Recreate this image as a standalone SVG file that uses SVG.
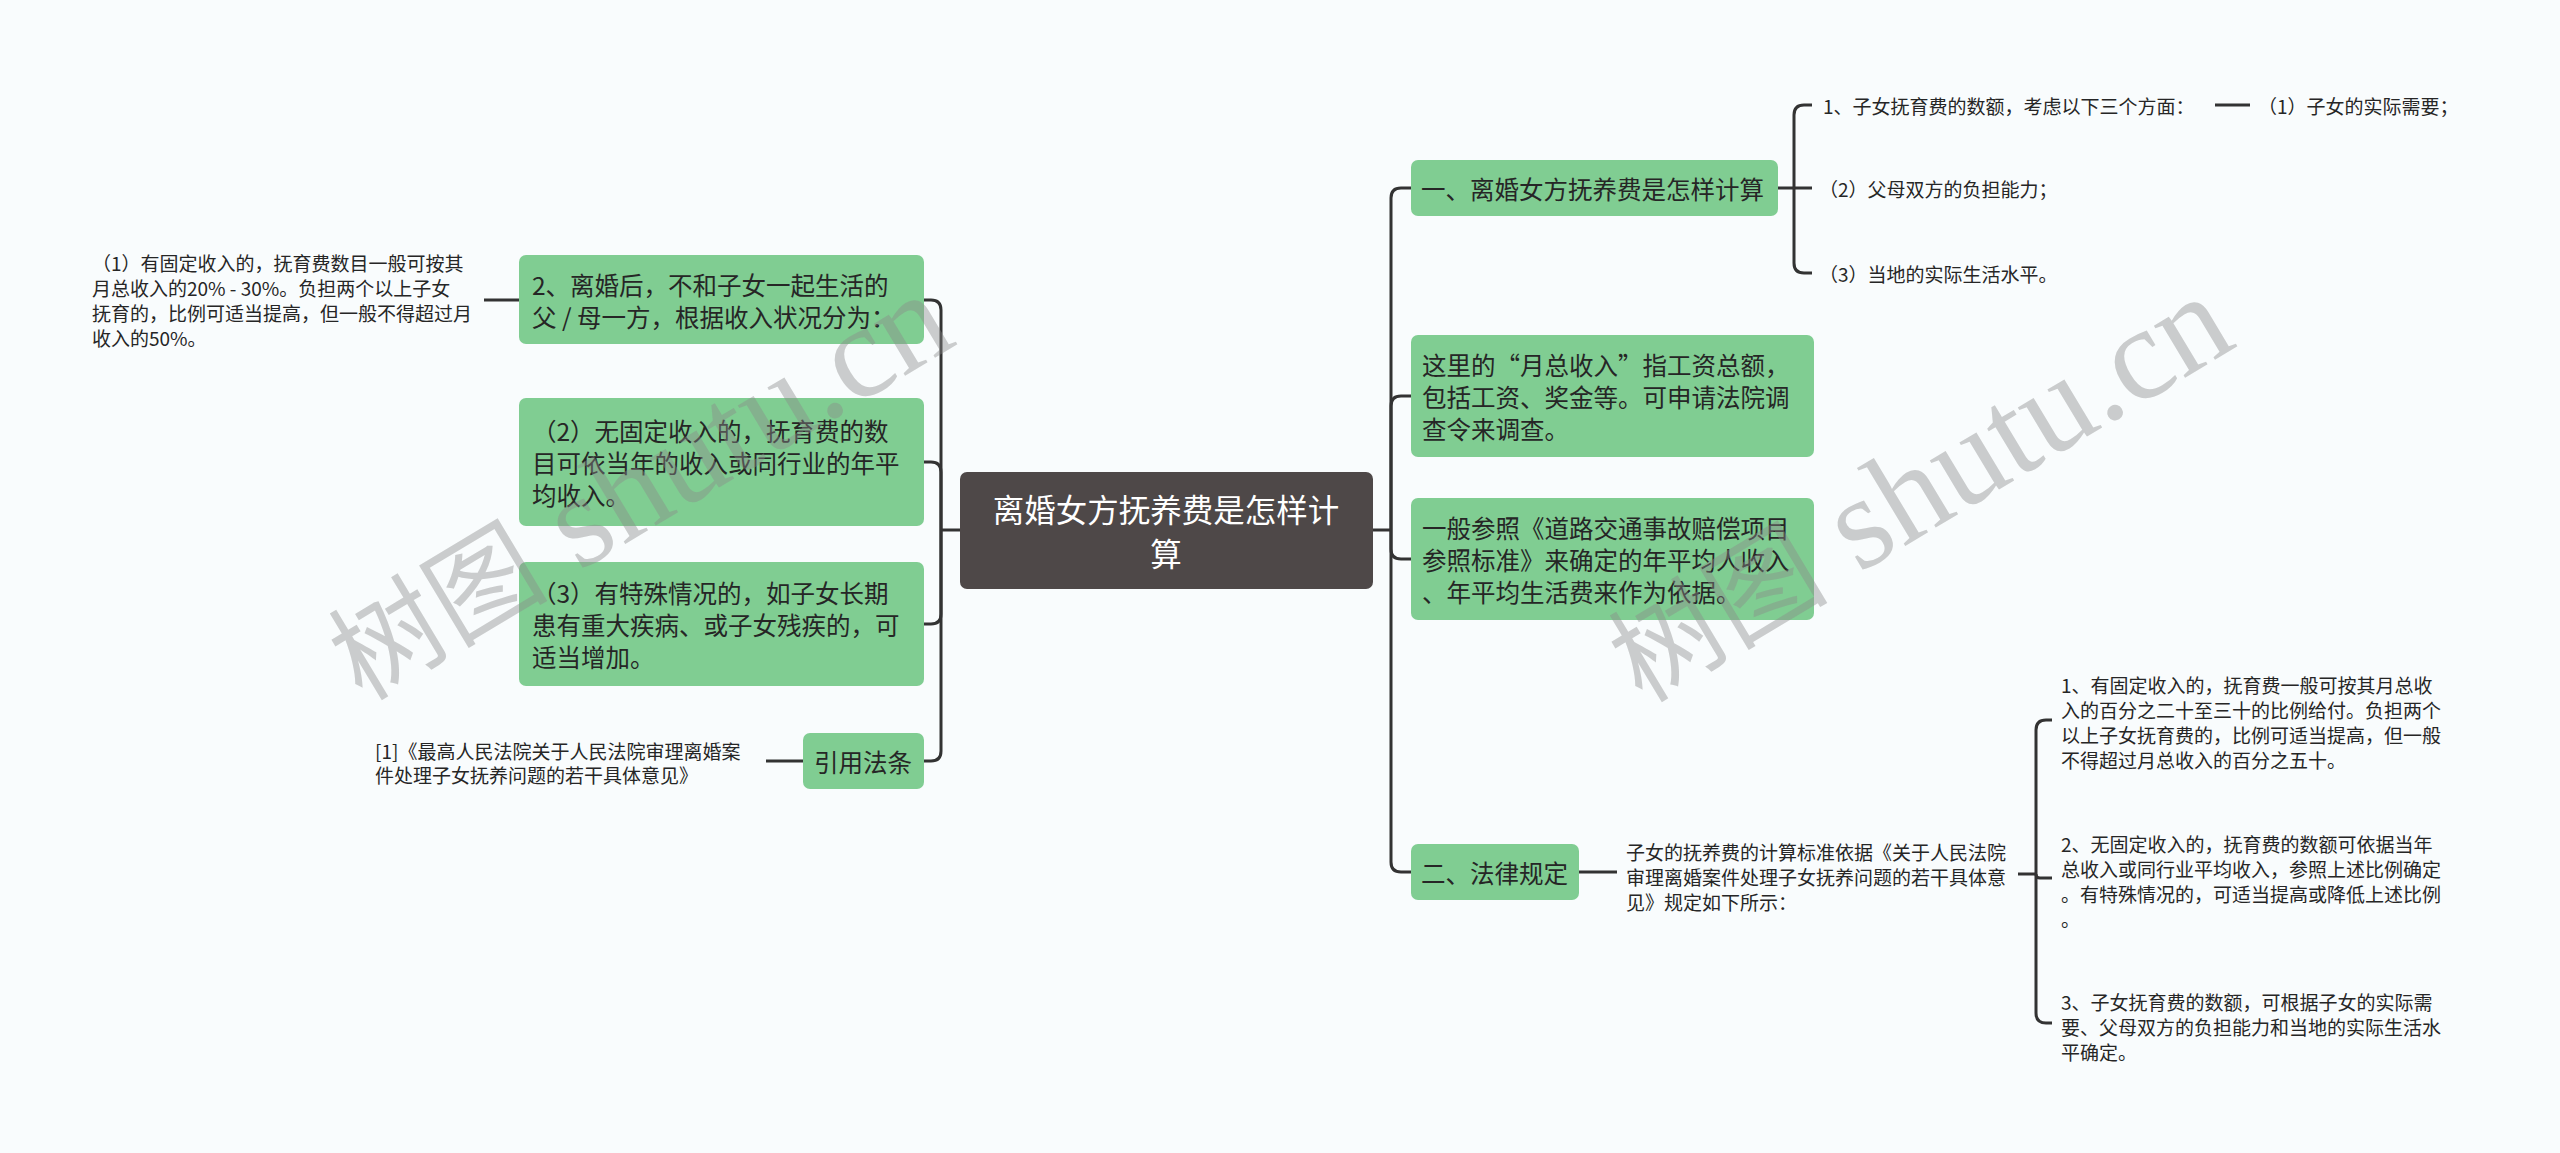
<svg xmlns="http://www.w3.org/2000/svg" width="2560" height="1153" viewBox="0 0 2560 1153">
<style>
.bg{fill:#f9fcfd}
.g{fill:#80cd92}
.root{fill:#4e4848}
.t{font-family:"Noto Sans CJK SC","Liberation Sans",sans-serif;font-size:24.5px;fill:#262626;dominant-baseline:central}
.rt{font-family:"Noto Sans CJK SC","Liberation Sans",sans-serif;font-size:31.5px;fill:#ffffff;dominant-baseline:central;text-anchor:middle}
.s{font-family:"Noto Sans CJK SC","Liberation Sans",sans-serif;font-size:19px;fill:#262626;dominant-baseline:central}
.c{fill:none;stroke:#333333;stroke-width:3}
.wm{font-family:"Liberation Serif","Noto Sans CJK SC",serif;fill:#8a8a8a;fill-opacity:0.42}
</style>
<rect class="bg" x="0" y="0" width="2560" height="1153"/>

<g id="connectors">
<path class="c" d="M960 530 H941"/>
<path class="c" d="M941 530 V310 Q941 300 931 300 H924"/>
<path class="c" d="M941 530 V472 Q941 462 931 462 H924"/>
<path class="c" d="M941 530 V614 Q941 624 931 624 H924"/>
<path class="c" d="M941 530 V751 Q941 761 931 761 H924"/>
<path class="c" d="M484 300 H519"/>
<path class="c" d="M766 761 H803"/>
<path class="c" d="M1373 530 H1391"/>
<path class="c" d="M1391 530 V198 Q1391 188 1401 188 H1411"/>
<path class="c" d="M1391 530 V406 Q1391 396 1401 396 H1411"/>
<path class="c" d="M1391 530 V549 Q1391 559 1401 559 H1411"/>
<path class="c" d="M1391 530 V862 Q1391 872 1401 872 H1411"/>
<path class="c" d="M1778 188 H1812"/>
<path class="c" d="M1794 188 V115 Q1794 105 1804 105 H1812"/>
<path class="c" d="M1794 188 V263 Q1794 273 1804 273 H1812"/>
<path class="c" d="M2215 105 H2250"/>
<path class="c" d="M1579 872 H1617"/>
<path class="c" d="M2018 874 H2036"/>
<path class="c" d="M2036 874 V730 Q2036 720 2046 720 H2052"/>
<path class="c" d="M2036 874 V874 Q2036 878 2040 878 H2052"/>
<path class="c" d="M2036 874 V1013 Q2036 1023 2046 1023 H2052"/>
</g>

<g id="root">
<rect class="root" x="960" y="472" width="413" height="117" rx="7"/>
<text class="rt" x="1166" y="508">离婚女方抚养费是怎样计</text>
<text class="rt" x="1166" y="552">算</text>
</g>

<g id="left-2">
<rect class="g" x="519" y="255" width="405" height="89" rx="7"/>
<text class="t" x="532" y="284">2、离婚后，不和子女一起生活的</text>
<text class="t" x="532" y="316">父 / 母一方，根据收入状况分为：</text>
</g>
<g id="left-2-1">
<text class="s" x="92" y="262">（1）有固定收入的，抚育费数目一般可按其</text>
<text class="s" x="92" y="287">月总收入的20% - 30%。负担两个以上子女</text>
<text class="s" x="92" y="312">抚育的，比例可适当提高，但一般不得超过月</text>
<text class="s" x="92" y="337">收入的50%。</text>
</g>
<g id="left-3">
<rect class="g" x="519" y="398" width="405" height="128" rx="7"/>
<text class="t" x="532" y="430">（2）无固定收入的，抚育费的数</text>
<text class="t" x="532" y="462">目可依当年的收入或同行业的年平</text>
<text class="t" x="532" y="494">均收入。</text>
</g>
<g id="left-4">
<rect class="g" x="519" y="562" width="405" height="124" rx="7"/>
<text class="t" x="532" y="592">（3）有特殊情况的，如子女长期</text>
<text class="t" x="532" y="624">患有重大疾病、或子女残疾的，可</text>
<text class="t" x="532" y="656">适当增加。</text>
</g>
<g id="left-5">
<rect class="g" x="803" y="733" width="121" height="56" rx="7"/>
<text class="t" x="814" y="761">引用法条</text>
</g>
<g id="left-5-1">
<text class="s" x="375" y="750">[1]《最高人民法院关于人民法院审理离婚案</text>
<text class="s" x="375" y="774">件处理子女抚养问题的若干具体意见》</text>
</g>

<g id="right-1">
<rect class="g" x="1411" y="160" width="367" height="56" rx="7"/>
<text class="t" x="1421" y="188">一、离婚女方抚养费是怎样计算</text>
</g>
<g id="right-1-1">
<text class="s" x="1823" y="105">1、子女抚育费的数额，考虑以下三个方面：</text>
</g>
<g id="right-1-1-1">
<text class="s" x="2258" y="105">（1）子女的实际需要；</text>
</g>
<g id="right-1-2">
<text class="s" x="1819" y="188">（2）父母双方的负担能力；</text>
</g>
<g id="right-1-3">
<text class="s" x="1819" y="273">（3）当地的实际生活水平。</text>
</g>
<g id="right-2">
<rect class="g" x="1411" y="335" width="403" height="122" rx="7"/>
<text class="t" x="1422" y="364">这里的“月总收入”指工资总额，</text>
<text class="t" x="1422" y="396">包括工资、奖金等。可申请法院调</text>
<text class="t" x="1422" y="428">查令来调查。</text>
</g>
<g id="right-3">
<rect class="g" x="1411" y="498" width="403" height="122" rx="7"/>
<text class="t" x="1422" y="527">一般参照《道路交通事故赔偿项目</text>
<text class="t" x="1422" y="559">参照标准》来确定的年平均人收入</text>
<text class="t" x="1422" y="591">、年平均生活费来作为依据。</text>
</g>
<g id="right-4">
<rect class="g" x="1411" y="844" width="168" height="56" rx="7"/>
<text class="t" x="1421" y="872">二、法律规定</text>
</g>
<g id="right-4-1">
<text class="s" x="1626" y="851">子女的抚养费的计算标准依据《关于人民法院</text>
<text class="s" x="1626" y="876">审理离婚案件处理子女抚养问题的若干具体意</text>
<text class="s" x="1626" y="901">见》规定如下所示：</text>
</g>
<g id="right-4-1-1">
<text class="s" x="2061" y="684">1、有固定收入的，抚育费一般可按其月总收</text>
<text class="s" x="2061" y="709">入的百分之二十至三十的比例给付。负担两个</text>
<text class="s" x="2061" y="734">以上子女抚育费的，比例可适当提高，但一般</text>
<text class="s" x="2061" y="759">不得超过月总收入的百分之五十。</text>
</g>
<g id="right-4-1-2">
<text class="s" x="2061" y="843">2、无固定收入的，抚育费的数额可依据当年</text>
<text class="s" x="2061" y="868">总收入或同行业平均收入，参照上述比例确定</text>
<text class="s" x="2061" y="893">。有特殊情况的，可适当提高或降低上述比例</text>
<text class="s" x="2061" y="918">。</text>
</g>
<g id="right-4-1-3">
<text class="s" x="2061" y="1001">3、子女抚育费的数额，可根据子女的实际需</text>
<text class="s" x="2061" y="1026">要、父母双方的负担能力和当地的实际生活水</text>
<text class="s" x="2061" y="1051">平确定。</text>
</g>

<g id="watermarks">
<text class="wm" x="362" y="702" transform="rotate(-31 362 702)"><tspan font-size="110">树图</tspan><tspan font-size="132"> shutu.cn</tspan></text>
<text class="wm" x="1642" y="704" transform="rotate(-31 1642 704)"><tspan font-size="110">树图</tspan><tspan font-size="132"> shutu.cn</tspan></text>
</g>
</svg>
